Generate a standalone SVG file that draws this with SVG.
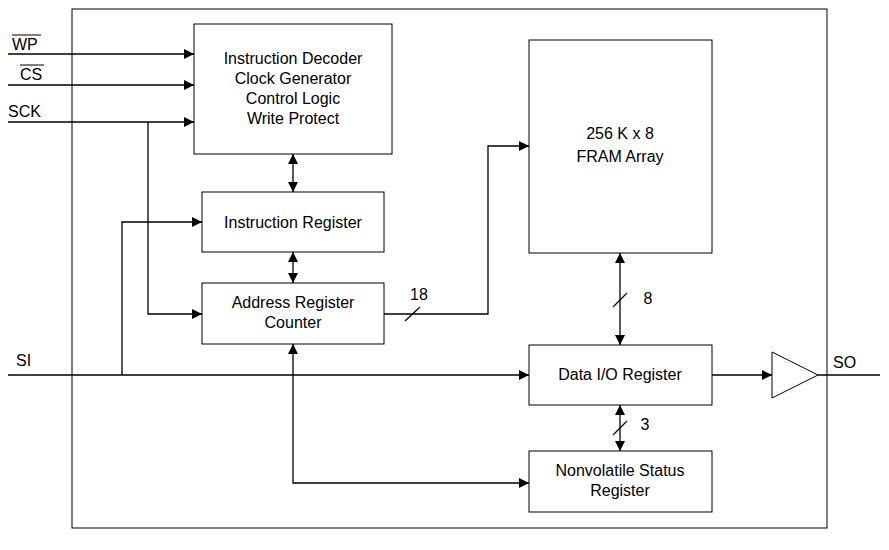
<svg xmlns="http://www.w3.org/2000/svg" width="889" height="550" viewBox="0 0 889 550">
<style>
.b{fill:#fff;stroke:#000;stroke-width:1}
.l{fill:none;stroke:#000;stroke-width:1.3}
text{font-family:"Liberation Sans",Arial,sans-serif;font-size:16px;fill:#000;text-anchor:middle}
.s{text-anchor:start}
</style>
<defs>
<marker id="a" viewBox="0 0 10 10" refX="10" refY="5" markerWidth="10" markerHeight="10" markerUnits="userSpaceOnUse" orient="auto-start-reverse"><path d="M0,0L10,5L0,10z" fill="#000"/></marker>
</defs>
<rect x="72" y="9" width="755" height="519" fill="#fff" stroke="#000"/>
<g id="connectors">
<path class="l" d="M8,54H194" marker-end="url(#a)"/>
<path class="l" d="M8,85H194" marker-end="url(#a)"/>
<path class="l" d="M8,122H194" marker-end="url(#a)"/>
<path class="l" d="M148,122V314H202" marker-end="url(#a)"/>
<path class="l" d="M8,375H529" marker-end="url(#a)"/>
<path class="l" d="M122,375V222H202" marker-end="url(#a)"/>
<path class="l" d="M293,154V192" marker-start="url(#a)" marker-end="url(#a)"/>
<path class="l" d="M293,252V283" marker-start="url(#a)" marker-end="url(#a)"/>
<path class="l" d="M384,314H488V146H529" marker-end="url(#a)"/>
<path class="l" d="M405,321L420,307"/>
<path class="l" d="M620,253V345" marker-start="url(#a)" marker-end="url(#a)"/>
<path class="l" d="M613,307L627,293"/>
<path class="l" d="M620,405V451" marker-start="url(#a)" marker-end="url(#a)"/>
<path class="l" d="M613,435L627,421"/>
<path class="l" d="M293,344V483H529" marker-start="url(#a)" marker-end="url(#a)"/>
<path class="l" d="M712,375H772" marker-end="url(#a)"/>
<path class="l" d="M818,375H880"/>
</g>
<g id="labels">
<text class="s" x="12" y="50">WP</text>
<path d="M12,35H41" stroke="#000"/>
<text class="s" x="20" y="80">CS</text>
<path d="M20,65H44" stroke="#000"/>
<text class="s" x="8" y="117">SCK</text>
<text class="s" x="16" y="366">SI</text>
<text class="s" x="833" y="368">SO</text>
<text x="419" y="300">18</text>
<text x="648" y="304">8</text>
<text x="645" y="430">3</text>
</g>
<g id="decoder"><rect class="b" x="194" y="24" width="198" height="130"/>
<text x="293" y="64">Instruction Decoder</text><text x="293" y="84">Clock Generator</text><text x="293" y="104">Control Logic</text><text x="293" y="124">Write Protect</text></g>
<g id="ir"><rect class="b" x="202" y="192" width="182" height="60"/><text x="293" y="228">Instruction Register</text></g>
<g id="ar"><rect class="b" x="202" y="283" width="182" height="61"/><text x="293" y="308">Address Register</text><text x="293" y="328">Counter</text></g>
<g id="fram"><rect class="b" x="529" y="40" width="183" height="213"/><text x="620" y="139">256 K x 8</text><text x="620" y="162">FRAM Array</text></g>
<g id="dio"><rect class="b" x="529" y="345" width="183" height="60"/><text x="620" y="380">Data I/O Register</text></g>
<g id="nv"><rect class="b" x="529" y="451" width="183" height="61"/><text x="620" y="476">Nonvolatile Status</text><text x="620" y="496">Register</text></g>
<g id="buffer"><path class="b" d="M772,352L818,375L772,398Z"/></g>
</svg>
